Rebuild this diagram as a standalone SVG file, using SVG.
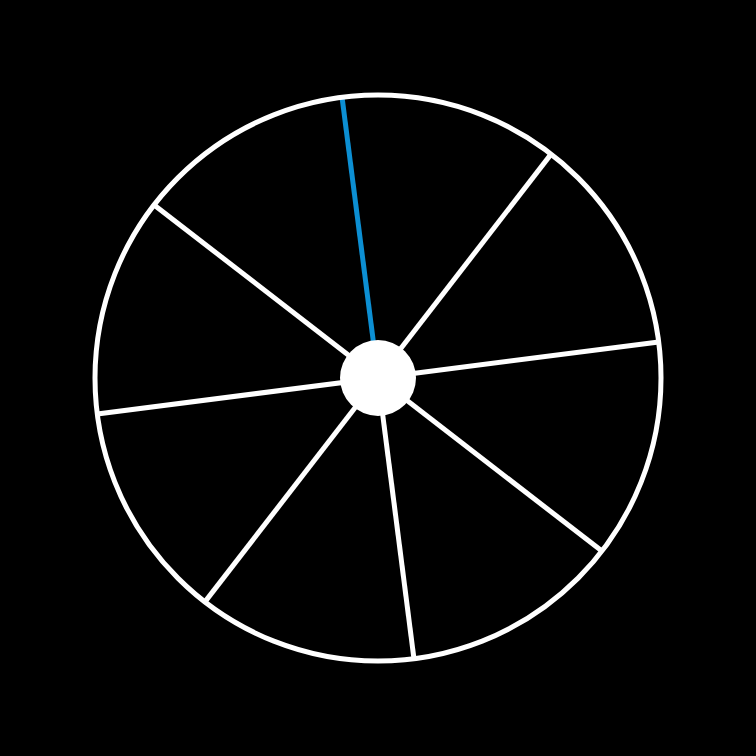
<svg xmlns="http://www.w3.org/2000/svg" width="756" height="756" viewBox="0 0 756 756">
<style>
.spoke{stroke:#ffffff;stroke-width:5;stroke-linecap:butt}
.blue{stroke:#0c8fd3;stroke-width:5}
</style>
<rect x="0" y="0" width="756" height="756" fill="#000000"/>
<g id="connectors">
<line class="spoke" x1="378" y1="378" x2="551.08" y2="154.10"/>
<line class="spoke" x1="378" y1="378" x2="658.71" y2="342.04"/>
<line class="spoke" x1="378" y1="378" x2="601.90" y2="551.08"/>
<line class="spoke" x1="378" y1="378" x2="413.96" y2="658.71"/>
<line class="spoke" x1="378" y1="378" x2="204.92" y2="601.90"/>
<line class="spoke" x1="378" y1="378" x2="97.29" y2="413.96"/>
<line class="spoke" x1="378" y1="378" x2="154.10" y2="204.92"/>
<line class="blue" x1="378" y1="378" x2="342.04" y2="97.29"/>
</g>
<g id="rim">
<circle cx="378" cy="378" r="283" fill="none" stroke="#ffffff" stroke-width="5"/>
</g>
<g id="hub">
<circle cx="378" cy="378" r="38" fill="#ffffff"/>
</g>
</svg>
